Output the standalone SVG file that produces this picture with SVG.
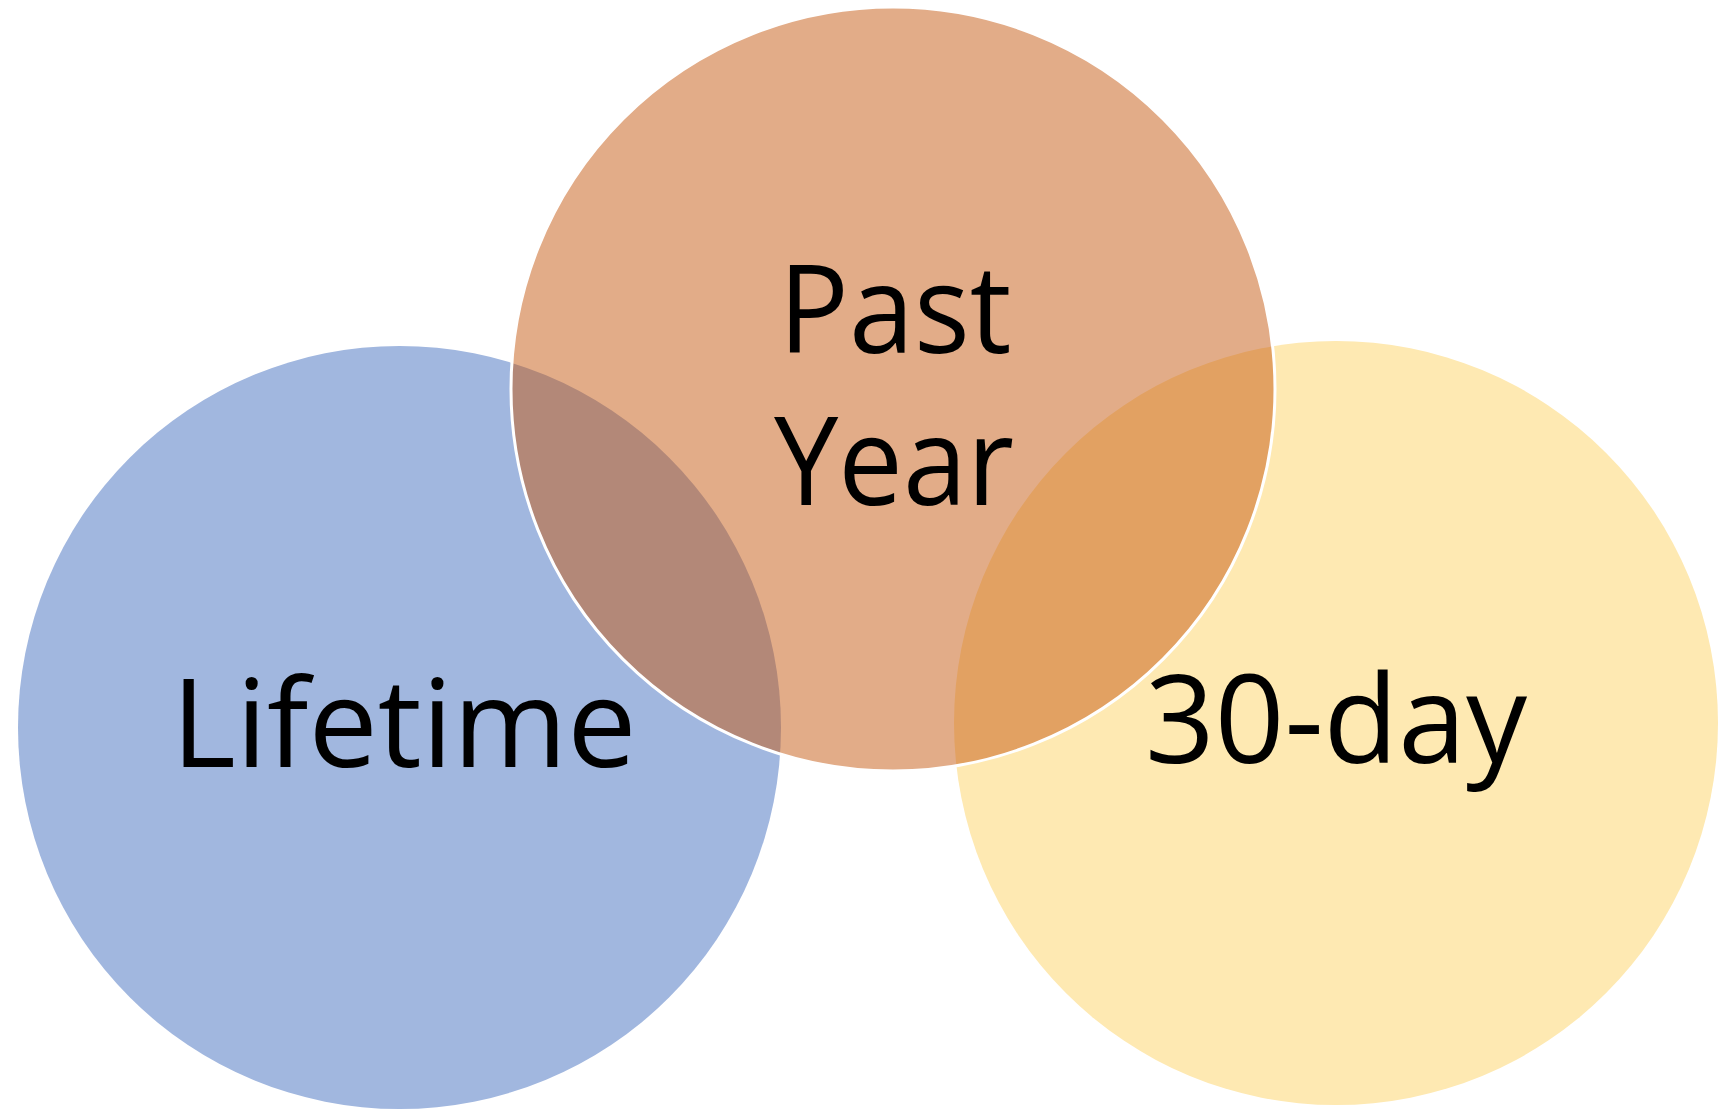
<svg xmlns="http://www.w3.org/2000/svg" width="1728" height="1114" viewBox="0 0 1728 1114">
<style>
.lbl{font-family:"Open Sans","Noto Sans","Liberation Sans",sans-serif;font-size:123px;fill:#000;text-anchor:middle}
</style>
<rect width="1728" height="1114" fill="#fff"/>
<g id="lifetime">
<circle cx="399.5" cy="727.5" r="381.5" fill="#A1B7DF"/>
</g>
<g id="thirty-day">
<circle cx="1336" cy="723" r="382" fill="#FEE9B2"/>
</g>
<g id="past-year">
<circle cx="893" cy="389" r="382" fill="#C55A11" fill-opacity="0.5" stroke="#fff" stroke-width="3"/>
</g>
<g id="connectors"></g>
<g id="labels">
<text class="lbl" x="895" y="352.7" textLength="233" lengthAdjust="spacingAndGlyphs">Past</text>
<text class="lbl" x="894" y="505" textLength="240" lengthAdjust="spacingAndGlyphs">Year</text>
<text class="lbl" x="404" y="766.7" textLength="465" lengthAdjust="spacingAndGlyphs">Lifetime</text>
<text class="lbl" x="1336" y="762.5" textLength="382" lengthAdjust="spacingAndGlyphs">30-day</text>
</g>
</svg>
